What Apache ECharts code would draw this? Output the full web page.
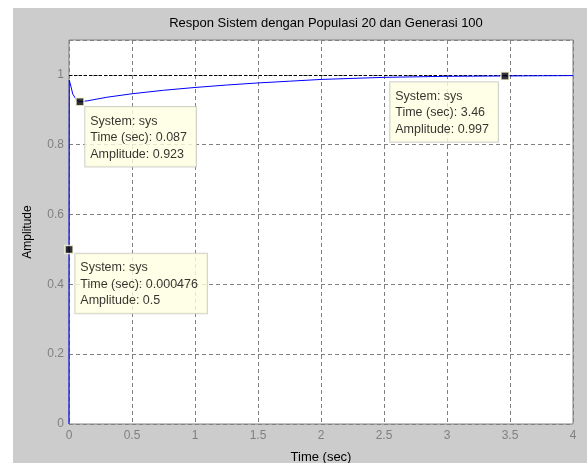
<!DOCTYPE html>
<html>
<head>
<meta charset="utf-8">
<script src="https://cdn.jsdelivr.net/npm/echarts@6/dist/echarts.min.js"></script>
<style>
  html, body { margin: 0; padding: 0; background: #ffffff; }
  #wrap { position: relative; width: 587px; height: 463px; background: #ffffff; overflow: hidden; }
  #fig { position: absolute; left: 13px; top: 8px; right: 0; bottom: 0; background: #cccccc; }
  #chart { position: absolute; left: 0; top: 0; width: 587px; height: 463px; }
</style>
</head>
<body>
<div id="wrap"><div id="fig"></div><div id="chart"></div></div>
<script>
// Step response samples
const timeSec   = [0, 0.0005, 0.002, 0.01, 0.03, 0.06, 0.087, 0.15, 0.3, 0.5, 0.75, 1.0, 1.25, 1.5, 1.75, 2.0, 2.5, 3.0, 3.46, 4.0];
const amplitude = [0, 0.5, 0.985, 0.975, 0.945, 0.928, 0.923, 0.926, 0.936, 0.946, 0.956, 0.964, 0.971, 0.977, 0.982, 0.987, 0.993, 0.996, 0.997, 0.998];
// Data tips
const tipTime  = [0.087, 0.000476, 3.46];
const tipAmp   = [0.923, 0.5, 0.997];
const tipLabel = ['0.087', '0.000476', '3.46'];
const tipAmpLabel = ['0.923', '0.5', '0.997'];
const steadyState = 1;
const titleText = 'Respon Sistem dengan Populasi 20 dan Generasi 100';
const xName = 'Time (sec)';
const yName = 'Amplitude';

const chart = echarts.init(document.getElementById('chart'), null, { renderer: 'canvas' });
const font = 'Liberation Sans, Arial, Helvetica, sans-serif';

const tipPos = [[10, 10], [11, 9], [-110, 11]];

const tipData = tipTime.map((t, i) => ({
  value: [t, tipAmp[i]],
  label: {
    show: true,
    position: tipPos[i],
    align: 'left',
    verticalAlign: 'top',
    formatter: 'System: sys\nTime (sec): ' + tipLabel[i] + '\nAmplitude: ' + tipAmpLabel[i],
    fontFamily: font,
    fontSize: 12.5,
    color: '#000000',
    lineHeight: 16.5,
    backgroundColor: '#ffffe1',
    borderColor: '#c8c8c0',
    borderWidth: 1,
    padding: [6, 9, 4, 5]
  }
}));

chart.setOption({
  backgroundColor: 'transparent',
  animation: false,
  title: {
    text: titleText,
    left: 321,
    top: 12,
    textAlign: 'center',
    textStyle: { fontFamily: font, fontSize: 13, fontWeight: 'normal', color: '#000000' }
  },
  grid: {
    left: 69, top: 40, width: 504, height: 384,
    outerBoundsMode: 'none',
    containLabel: false,
    show: true, backgroundColor: '#ffffff', borderColor: '#808080', borderWidth: 1
  },
  xAxis: {
    type: 'value', min: 0, max: 4, interval: 0.5,
    name: xName, nameLocation: 'middle', nameGap: 27,
    nameTextStyle: { fontFamily: font, fontSize: 13, color: '#000000' },
    axisLine: { show: false },
    axisTick: { show: false },
    axisLabel: { fontFamily: font, fontSize: 12, color: '#808080', margin: 6 },
    splitLine: { show: true, lineStyle: { color: '#808080', type: [4, 3], width: 1 } }
  },
  yAxis: {
    type: 'value', min: 0, max: 1.1, interval: 0.2,
    name: yName, nameLocation: 'middle', nameGap: 35,
    nameTextStyle: { fontFamily: font, fontSize: 12, color: '#000000' },
    axisLine: { show: false },
    axisTick: { show: false },
    axisLabel: { fontFamily: font, fontSize: 12, color: '#808080', margin: 5, showMaxLabel: false },
    splitLine: { show: true, lineStyle: { color: '#808080', type: [4, 3], width: 1 } }
  },
  series: [
    {
      type: 'line',
      data: timeSec.map((t, i) => [t, amplitude[i]]),
      showSymbol: false,
      symbol: 'none',
      lineStyle: { color: '#0000ff', width: 1 },
      z: 3,
      markLine: {
        silent: true,
        symbol: 'none',
        label: { show: false },
        lineStyle: { color: '#000000', type: [3, 2], width: 1 },
        data: [{ yAxis: steadyState }],
        z: 2
      }
    },
    {
      type: 'scatter',
      data: tipData,
      symbol: 'rect',
      symbolSize: 8,
      itemStyle: { color: '#000000', borderColor: '#ffffe1', borderWidth: 1.5 },
      z: 5
    }
  ]
});
</script>
</body>
</html>
